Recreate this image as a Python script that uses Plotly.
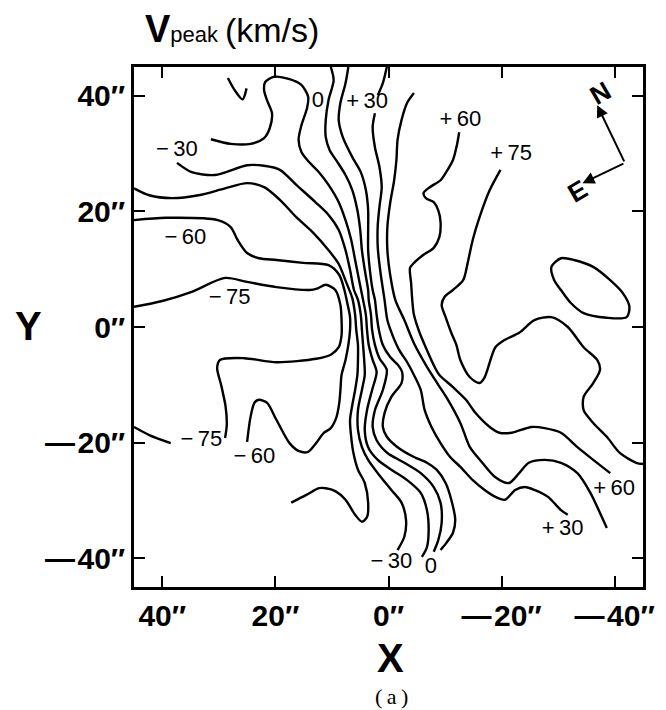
import plotly.graph_objects as go

# ---- contour paths of V_peak (offsets in arcsec, X increases to the east/left) ----
# -75 km/s: region on the east side and its short western tail
m75_x = [45.0, 40.0, 34.8, 28.9, 25.0, 19.8, 14.0, 12.5, 11.1, 9.4, 8.5, 8.3, 8.3, 8.8, 10.2, 12.8, 19.8, 25.5, 29.8, 30.3, 29.6, 28.8, 28.6, 28.9]
m75_y = [3.5, 4.5, 6.1, 8.5, 7.8, 6.9, 6.4, 6.7, 7.3, 6.4, 3.8, 1.2, -1.4, -3.5, -4.8, -5.5, -6.1, -5.4, -5.7, -7.1, -10.0, -13.8, -17.0, -19.2]
m75b_x = [38.5, 42.3, 45.0]
m75b_y = [-20.1, -18.7, -17.3]

# -60 km/s
m60_x = [45.0, 39.3, 30.2, 27.9, 26.7, 25.0, 22.9, 19.8, 15.1, 10.6, 8.7, 7.8, 7.3, 6.8, 6.8, 7.1, 7.6, 8.3, 8.5, 8.7, 9.2, 10.2, 11.4, 12.8, 14.2, 15.8, 17.5, 19.8, 21.5, 22.9, 23.7, 24.4, 25.0]
m60_y = [18.5, 18.9, 18.5, 17.3, 15.1, 12.8, 11.9, 11.6, 11.1, 10.7, 9.0, 6.4, 4.2, 1.7, -0.5, -3.1, -5.7, -8.3, -10.9, -13.1, -15.6, -17.5, -18.3, -20.1, -21.6, -21.5, -20.1, -16.1, -13.1, -12.6, -13.1, -15.6, -19.9]

# -45 km/s
m45_x = [45.0, 42.3, 38.3, 33.6, 28.9, 25.0, 22.0, 19.2, 16.3, 13.3, 10.6, 8.8, 7.5, 6.4, 5.9, 5.7, 5.4, 5.4, 5.5, 5.9, 6.4, 6.8, 6.6, 6.2, 5.4, 4.2, 3.6, 3.8, 4.7, 5.9, 7.6, 9.4, 11.1, 12.3, 14.6, 17.2]
m45_y = [24.0, 22.8, 22.3, 22.8, 24.0, 24.9, 24.2, 22.0, 19.0, 16.3, 13.3, 10.9, 7.8, 5.0, 2.1, -0.5, -3.1, -5.7, -8.3, -10.9, -13.5, -16.1, -19.0, -21.8, -24.7, -27.0, -30.4, -32.9, -33.7, -32.5, -29.9, -28.4, -27.9, -27.9, -29.1, -30.4]

# -30 km/s
m30_x = [37.4, 34.8, 30.7, 25.0, 22.0, 19.2, 16.3, 12.8, 10.6, 8.8, 7.6, 6.8, 6.1, 5.4, 4.9, 4.7, 4.5, 4.3, 4.2, 4.7, 5.4, 5.4, 4.7, 3.6, 1.9, -0.5, -2.3, -3.1, -2.8, -1.6]
m30_y = [28.4, 26.8, 26.3, 28.0, 27.9, 27.2, 24.6, 21.5, 19.4, 16.8, 13.3, 9.9, 6.4, 4.7, 2.1, -0.5, -3.1, -5.7, -8.3, -10.9, -14.4, -17.8, -20.8, -23.0, -25.3, -28.2, -30.4, -33.4, -36.3, -38.6]

# -15 km/s
m15_x = [31.4, 27.9, 24.4, 22.0, 21.0, 20.6, 21.5, 22.0, 21.8, 20.3, 17.5, 15.4, 14.2, 14.4, 15.4, 15.9, 15.4, 14.0, 12.3, 10.6, 8.8, 7.5, 6.6, 5.9, 5.2, 4.5, 4.0, 3.8, 3.5, 2.8, 2.1, 2.9, 3.8, 4.2, 3.6, 1.9, -0.5, -3.3, -5.7, -6.8, -7.1, -6.8, -5.9]
m15_y = [32.5, 31.7, 31.7, 32.7, 34.4, 37.0, 39.3, 41.0, 42.4, 43.3, 42.9, 41.9, 39.8, 37.9, 34.9, 32.4, 30.3, 28.5, 26.8, 24.6, 21.6, 18.2, 15.1, 11.6, 8.1, 4.7, 2.1, -0.5, -3.1, -5.7, -7.8, -10.9, -14.4, -17.8, -20.8, -23.0, -24.7, -26.5, -28.7, -31.7, -35.1, -38.1, -39.8]

# 0 km/s
z0_x = [10.2, 9.7, 10.6, 11.1, 11.1, 10.4, 9.0, 7.6, 6.4, 5.5, 5.0, 4.7, 4.2, 3.6, 3.5, 3.1, 2.9, 2.4, 1.6, 0.3, 1.0, 2.4, 2.8, 2.1, 0.2, -2.8, -5.7, -8.0, -9.2, -9.4, -8.8, -8.0]
z0_y = [45.0, 42.7, 39.3, 35.8, 32.9, 30.6, 28.5, 26.3, 23.7, 20.2, 16.8, 13.3, 9.9, 6.4, 4.7, 2.1, -0.5, -3.1, -5.4, -7.4, -10.9, -14.4, -17.3, -19.6, -21.8, -23.5, -25.3, -27.7, -30.4, -33.9, -36.9, -38.9]

# +15 km/s
p15_x = [7.1, 7.6, 8.5, 8.8, 8.1, 6.4, 4.9, 4.0, 3.6, 3.6, 3.6, 3.3, 2.8, 2.4, 2.1, 1.7, 1.0, -0.3, -1.7, -2.4, -2.3, -0.5, 0.7, 1.0, 0.3, -1.6, -4.5, -6.8, -8.5, -10.1, -11.1, -11.8, -11.4, -10.2, -9.2]
p15_y = [45.0, 42.2, 38.8, 35.8, 32.9, 29.4, 26.8, 23.7, 20.2, 16.8, 13.3, 9.9, 6.4, 4.7, 2.1, -0.5, -3.1, -5.2, -6.6, -7.8, -9.7, -12.1, -14.9, -17.3, -19.0, -20.8, -22.5, -23.5, -24.7, -27.0, -29.9, -33.4, -35.6, -37.4, -38.6]

# +30 km/s (broken at the top for its label)
p30a_x = [0.3, 1.0, 1.9]
p30a_y = [45.0, 42.2, 40.1]
p30b_x = [2.4, 2.8, 2.4, 1.6, 1.2, 1.6, 1.9, 1.9, 1.4, 0.7, 0.2, -0.7, -1.9, -3.3, -4.5, -5.7, -6.4, -7.6, -9.2, -10.9, -12.7, -14.9, -17.0, -18.9, -20.6, -22.4, -24.1, -25.8, -28.2, -30.5, -31.7]
p30b_y = [37.0, 34.6, 31.1, 27.7, 24.2, 20.8, 17.6, 13.8, 9.3, 4.7, 1.2, -1.4, -4.0, -6.1, -8.3, -10.9, -14.4, -17.3, -20.1, -22.5, -24.2, -26.5, -28.2, -29.4, -29.9, -28.2, -27.7, -28.2, -29.4, -31.7, -32.5]

# +45 km/s
p45_x = [-4.5, -3.3, -2.3, -1.6, -1.4, -1.0, -0.3, 0.2, 0.2, -0.3, -1.2, -2.8, -4.5, -6.8, -8.8, -10.2, -12.7, -14.4, -16.6, -18.9, -21.3, -23.1, -24.8, -27.6, -30.5, -33.4, -35.7, -37.4, -38.6]
p45_y = [40.5, 38.8, 35.8, 32.4, 28.9, 25.4, 21.5, 17.3, 13.3, 9.0, 4.7, 1.2, -2.8, -6.9, -10.0, -12.1, -16.6, -20.8, -23.5, -26.0, -27.0, -25.3, -23.5, -23.0, -23.5, -25.3, -28.7, -32.2, -34.8]

# +60 km/s
p60_x = [-12.5, -12.1, -11.4, -10.2, -9.2, -7.3, -6.2, -6.6, -8.0, -8.8, -9.2, -9.0, -8.0, -6.2, -4.5, -3.8, -4.0, -4.2, -4.5, -5.5, -6.8, -8.0, -9.0, -11.4, -13.7, -15.4, -17.9, -19.6, -21.8, -25.3, -27.6, -30.5, -33.4, -36.2, -39.2]
p60_y = [33.7, 31.5, 28.9, 26.8, 25.4, 24.2, 23.2, 22.3, 21.6, 20.2, 18.2, 15.6, 13.7, 12.5, 11.1, 10.2, 7.6, 4.7, 2.1, -1.0, -4.0, -6.6, -8.3, -10.4, -12.6, -14.9, -17.3, -18.3, -18.3, -17.3, -17.5, -18.3, -20.8, -23.0, -25.3]

# +75 km/s
p75_x = [-19.8, -17.9, -16.1, -14.9, -14.0, -13.2, -11.4, -9.9, -9.4, -10.1, -11.1, -12.0, -12.7, -14.4, -16.1, -17.0, -18.9, -20.6, -23.1, -25.8, -28.8, -31.7, -34.5, -36.9, -37.4, -36.2, -34.5, -34.5, -36.2, -38.6, -40.9, -43.8, -45.0]
p75_y = [27.2, 23.7, 19.0, 15.1, 11.1, 8.1, 6.4, 5.2, 3.8, 1.7, -1.0, -3.1, -5.7, -8.7, -9.7, -8.7, -3.5, -2.2, -1.0, 1.2, 1.7, 0.0, -3.5, -5.7, -7.4, -9.7, -12.1, -14.4, -16.6, -19.0, -21.8, -23.5, -23.7]

# closed island inside +75 on the west side
p90_x = [-28.8, -30.5, -32.8, -36.2, -39.2, -41.4, -42.6, -42.1, -38.6, -34.5, -32.2, -30.5, -29.3, -28.8]
p90_y = [10.4, 11.9, 11.6, 10.4, 8.1, 5.9, 3.5, 1.7, 1.6, 2.4, 4.2, 6.4, 8.1, 10.4]

# small fragment near the northern edge
frag_x = [28.4, 27.2, 25.8, 25.1]
frag_y = [43.1, 41.0, 39.4, 41.3]

# contour labels
label_text = ["\u2212\u200930", "\u2212\u200960", "\u2212\u200975", "\u2212\u200975", "\u2212\u200960", "\u2212\u200930", "0", "0",
              "+\u200930", "+\u200960", "+\u200975", "+\u200960", "+\u200930"]
label_x = [37.4, 35.9, 28.1, 33.1, 23.7, -0.5, -7.5, 12.5, 3.8, -12.7, -21.7, -39.9, -30.8]
label_y = [30.6, 15.4, 5.0, -19.6, -22.5, -40.8, -41.7, 39.1, 38.9, 35.8, 29.8, -28.2, -35.1]

# axes ticks
tick_vals = [40, 20, 0, -20, -40]
tick_text = ["40\u2033", "20\u2033", "0\u2033", "\u2014\u200a20\u2033", "\u2014\u200a40\u2033"]

# compass: corner, north tip, east tip
compass_corner = (-41.8, 28.4)
compass_north = (-36.9, 38.4)
compass_east = (-34.3, 24.9)

paths = [
    (m75_x, m75_y), (m75b_x, m75b_y), (m60_x, m60_y), (m45_x, m45_y),
    (m30_x, m30_y), (m15_x, m15_y), (z0_x, z0_y), (p15_x, p15_y),
    (p30a_x, p30a_y), (p30b_x, p30b_y), (p45_x, p45_y), (p60_x, p60_y),
    (p75_x, p75_y), (p90_x, p90_y), (frag_x, frag_y),
]

FONT = "Liberation Sans, Arial, sans-serif"

fig = go.Figure()
for px_, py_ in paths:
    fig.add_trace(go.Scatter(
        x=px_, y=py_, mode="lines",
        line=dict(color="black", width=2.4, shape="spline", smoothing=0.8),
        hoverinfo="skip", showlegend=False,
    ))

fig.add_trace(go.Scatter(
    x=label_x, y=label_y, mode="text", text=label_text,
    textfont=dict(family=FONT, size=22, color="black"),
    hoverinfo="skip", showlegend=False,
))

axis_common = dict(
    showgrid=False, zeroline=False, showline=True, linecolor="black",
    linewidth=2.6, mirror="ticks", ticks="inside", ticklen=11, tickwidth=2.4,
    tickcolor="black", tickvals=tick_vals, ticktext=tick_text,
    tickfont=dict(family=FONT, size=30, color="black", weight="bold"),
)

fig.update_xaxes(range=[45, -45], **axis_common)
fig.update_yaxes(range=[-45, 45], **axis_common)

annotations = [
    dict(text='<b><span style="font-size:38px">V</span></b><span style="font-size:22px">peak</span><span style="font-size:34px">\u2009(km/s)</span>',
         xref="paper", yref="paper", x=0.0174, y=1.118, xanchor="left", yanchor="top",
         showarrow=False, font=dict(family=FONT, size=34, color="black")),
    dict(text="<b>Y</b>", xref="paper", yref="paper", x=-0.207, y=0.502,
         xanchor="center", yanchor="middle",
         showarrow=False, font=dict(family=FONT, size=40, color="black")),
    dict(text="<b>X</b>", xref="paper", yref="paper", x=0.503, y=-0.1365,
         xanchor="center", yanchor="middle",
         showarrow=False, font=dict(family=FONT, size=40, color="black")),
    dict(text="(\u2009a\u2009)", xref="paper", yref="paper", x=0.505, y=-0.2115,
         xanchor="center", yanchor="middle",
         showarrow=False, font=dict(family="Liberation Serif, serif", size=22, color="black")),
    dict(text="", x=compass_north[0], y=compass_north[1], ax=compass_corner[0], ay=compass_corner[1],
         xref="x", yref="y", axref="x", ayref="y", showarrow=True,
         arrowhead=2, arrowsize=1.2, arrowwidth=2, arrowcolor="black"),
    dict(text="", x=compass_east[0], y=compass_east[1], ax=compass_corner[0], ay=compass_corner[1],
         xref="x", yref="y", axref="x", ayref="y", showarrow=True,
         arrowhead=2, arrowsize=1.2, arrowwidth=2, arrowcolor="black"),
    dict(text="<b>N</b>", x=-37.5, y=40.5, xref="x", yref="y", showarrow=False, textangle=-30,
         font=dict(family=FONT, size=26, color="black")),
    dict(text="<b>E</b>", x=-33.5, y=23.5, xref="x", yref="y", showarrow=False, textangle=-30,
         font=dict(family=FONT, size=26, color="black")),
]

fig.update_layout(
    width=666, height=710,
    margin=dict(l=134, r=15, t=67, b=123),
    plot_bgcolor="white", paper_bgcolor="white",
    annotations=annotations,
    showlegend=False,
)

fig.write_html("out.html")
